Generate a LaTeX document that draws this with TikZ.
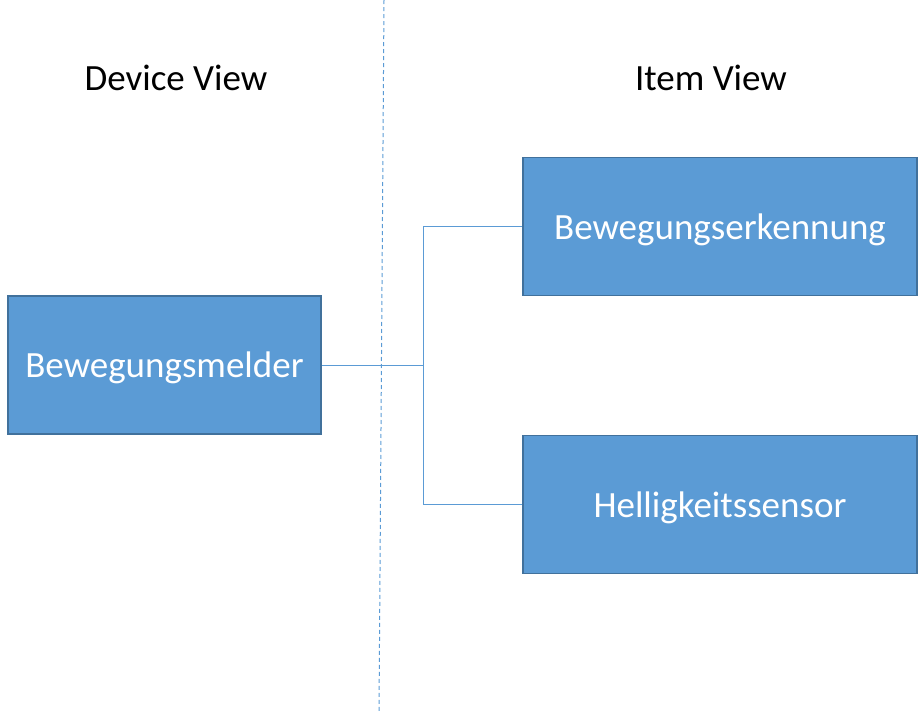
\documentclass[tikz,border=0pt]{standalone}
\usepackage{fontspec}
\setmainfont{Carlito}
\definecolor{boxfill}{HTML}{5B9BD5}
\definecolor{boxline}{HTML}{41719C}
\tikzset{
  viewbox/.style={draw=boxline, line width=1.5pt, fill=boxfill, text=white,
    minimum height=138pt, font=\fontsize{37}{44}\selectfont, inner sep=0pt,
    text depth=0pt},
  link/.style={draw=boxfill, line width=1pt},
  heading/.style={font=\fontsize{37}{44}\selectfont}
}
\begin{document}
\begin{tikzpicture}[x=1pt,y=-1pt]
\useasboundingbox (0,0) rectangle (918,713);
\draw[boxfill, line width=1pt, dash pattern=on 4pt off 3pt] (384,0) -- (379,713);
\node[heading] (device) at (176,78) {Device View};
\node[heading] (item) at (711,78) {Item View};
\node[viewbox, minimum width=313pt] (melder) at (164.5,365) {Bewegungsmelder};
\node[viewbox, minimum width=394pt] (erkennung) at (720,226.5) {Bewegungserkennung};
\node[viewbox, minimum width=394pt] (sensor) at (720,504.5) {Helligkeitssensor};
\coordinate (split) at (423,365);
\draw[link] (melder.east) -- (split);
\draw[link] (split) |- (erkennung.west);
\draw[link] (split) |- (sensor.west);
\end{tikzpicture}
\end{document}
